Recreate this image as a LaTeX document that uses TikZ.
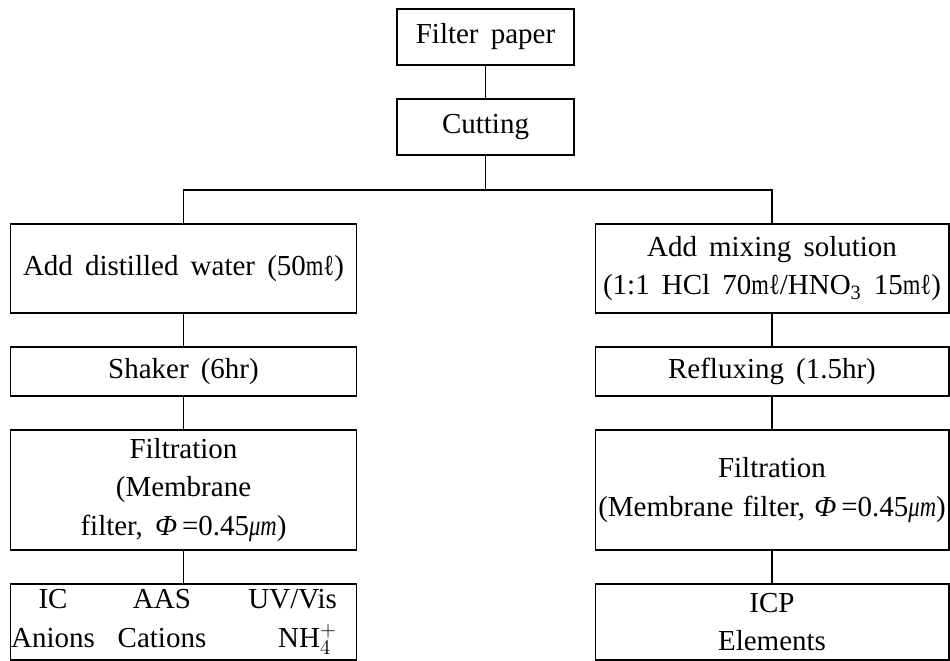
\documentclass[tikz,border=0pt]{standalone}
\usepackage{fontspec}
\usepackage{graphicx}
\setmainfont{Liberation Serif}
\usetikzlibrary{calc}
% text of the boxes, with the wide word spaces of the original
\newcommand{\boxfont}{\fontsize{16.5}{22}\selectfont\spaceskip=0.42em plus 0.1em minus 0.05em\relax}
% narrow unit signs, like the square unit glyphs of the original
\newcommand{\mlunit}{\scalebox{0.78}[1]{mℓ}}
\newcommand{\umunit}{\scalebox{0.78}[1]{\textit{μm}}}
% one row of the analysis box: two centred columns and a right aligned one
\newcommand{\anarow}[3]{\makebox[1.72cm]{#1}\hspace{0.28cm}\makebox[2.08cm]{#2}\hspace{0.56cm}\makebox[1.9cm][r]{#3}}

\begin{document}
\begin{tikzpicture}[x=0.02cm, y=-0.02cm,
    stepbox/.style={rectangle, draw, line width=0.6pt, align=center, inner xsep=1pt, inner ysep=2pt, font=\boxfont},
    leftbox/.style={stepbox, minimum width=6.94cm},
    rightbox/.style={stepbox, minimum width=7.08cm},
    link/.style={line width=0.6pt}
]
\useasboundingbox (0,0) rectangle (950,661);

\node[stepbox, minimum width=3.54cm, minimum height=1.12cm] (paper) at (485.5,37)  {Filter paper};
\node[stepbox, minimum width=3.54cm, minimum height=1.12cm] (cut)   at (485.5,127) {Cutting};
\coordinate (split) at (485.5,190);

% water extraction
\node[leftbox, minimum height=1.78cm] (water) at (183.5,268.5) {Add distilled water (50\mlunit)};
\node[leftbox, minimum height=0.98cm] (shake) at (183.5,371.5) {Shaker (6hr)};
\node[leftbox, minimum height=2.40cm] (filtL) at (183.5,490)   {Filtration\\(Membrane\\filter, \textit{Φ}\,=0.45\umunit)};
\node[leftbox, minimum height=1.52cm, text width=6.94cm, align=left, inner xsep=0pt] (anaL) at (183.5,622)
    {\anarow{IC}{AAS}{UV/Vis}\\\anarow{Anions}{Cations}{NH$_4^{+}$}};

% acid digestion
\node[rightbox, minimum height=1.78cm] (mix)    at (772,268.5) {Add mixing solution\\(1:1 HCl 70\mlunit/HNO\textsubscript{3} 15\mlunit)};
\node[rightbox, minimum height=0.98cm] (reflux) at (772,371.5) {Refluxing (1.5hr)};
\node[rightbox, minimum height=2.40cm] (filtR)  at (772,490)
    {Filtration\\{\spaceskip=0.32em\relax(Membrane filter, \textit{Φ}\,=0.45\umunit)}};
\node[rightbox, minimum height=1.52cm] (anaR)   at (772,622)   {ICP\\Elements};

\draw[link] (paper) -- (cut);
\draw[link] (cut) -- (split);
\draw[link] (water.north) |- (split) -| (mix.north);
\draw[link] (water) -- (shake);
\draw[link] (shake) -- (filtL);
\draw[link] (filtL) -- (anaL);
\draw[link] (mix) -- (reflux);
\draw[link] (reflux) -- (filtR);
\draw[link] (filtR) -- (anaR);
\end{tikzpicture}
\end{document}
